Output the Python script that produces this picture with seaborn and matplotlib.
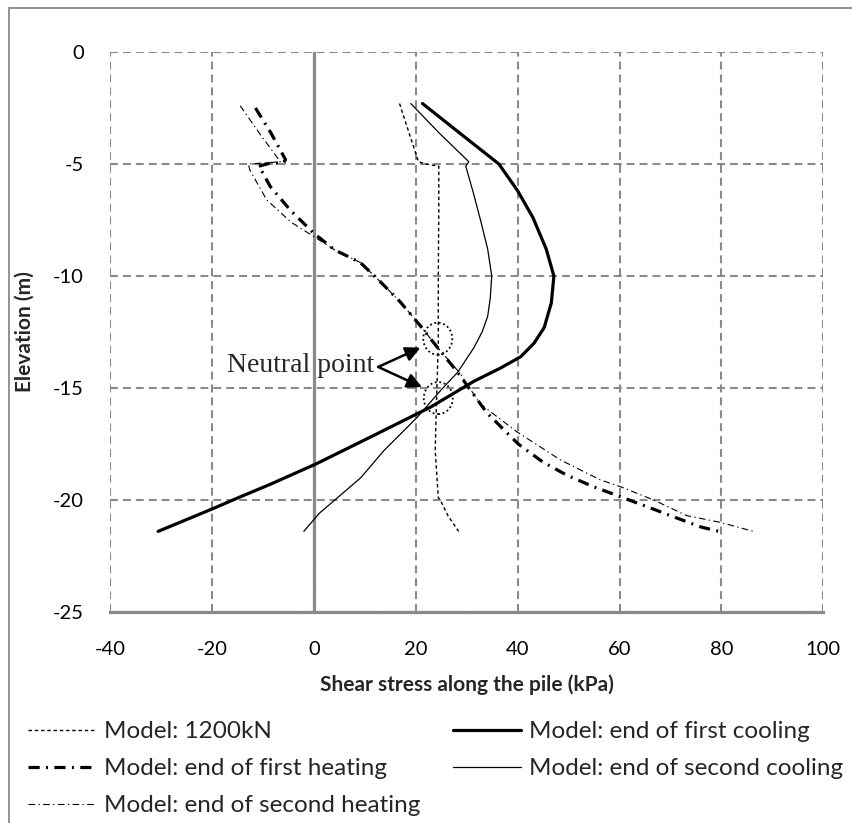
"""
Shear stress along the pile during thermal cycles (model results).
"""

import matplotlib
matplotlib.use('Agg')
import matplotlib.pyplot as plt
import seaborn as sns
from matplotlib.patches import Ellipse, Rectangle

sns.set_style('white')
plt.rcParams['font.family'] = ['Lato', 'DejaVu Sans']
plt.rcParams['axes.unicode_minus'] = False

# --- data (kPa, m) ---
load_x = [16.8, 18.5, 20.5, 22.0, 24.5, 24.5, 24.4, 24.4, 24.2, 24.0, 23.8, 24.4, 24.8, 26.3, 28.4]
load_y = [-2.3, -3.5, -4.9, -5.0, -5.1, -7.0, -10.0, -13.0, -14.5, -16.0, -17.8, -19.9, -20.0, -20.7, -21.4]

cool1_x = [21.3, 28.5, 36.3, 40.0, 43.0, 45.6, 47.1, 46.6, 45.2, 43.2, 40.6, 36.7,
           31.4, 22.9, 11.0, 0.3, -8.6, -14.9, -20.0, -30.6]
cool1_y = [-2.3, -3.6, -5.0, -6.2, -7.4, -8.8, -10.0, -11.2, -12.3, -13.0, -13.6, -14.1,
           -14.7, -15.85, -17.2, -18.4, -19.3, -19.9, -20.4, -21.4]

cool2_x = [19.0, 24.5, 30.4, 29.8, 31.3, 32.8, 34.1, 34.9, 34.6, 34.1, 33.0, 31.4,
           28.2, 24.9, 20.3, 13.7, 9.2, 4.6, 1.0, -2.0]
cool2_y = [-2.3, -3.6, -4.9, -5.1, -6.3, -7.6, -8.8, -10.0, -11.0, -11.8, -12.5, -13.2,
           -14.3, -15.1, -16.3, -17.8, -19.0, -19.9, -20.6, -21.4]

heat1_x = [-11.5, -8.5, -5.6, -6.0, -8.6, -10.9, -10.3, -8.6, -4.7, 0.0, 4.1, 9.1, 13.0,
           16.9, 20.8, 24.1, 28.2, 33.9, 40.1, 44.9, 49.7, 54.8, 60.1, 65.4, 70.6, 75.9, 79.5]
heat1_y = [-2.5, -3.6, -4.8, -4.96, -4.96, -5.1, -5.3, -6.0, -7.05, -8.1, -8.84, -9.4, -10.25,
           -11.15, -12.2, -13.15, -14.3, -16.1, -17.5, -18.3, -18.9, -19.4, -19.85, -20.3,
           -20.75, -21.2, -21.4]

heat2_x = [-14.5, -10.5, -6.6, -9.5, -12.9, -12.6, -9.3, -4.5, -1.0, 4.1, 9.1, 13.0, 16.9,
           20.8, 24.1, 28.5, 32.6, 39.8, 48.3, 56.2, 60.1, 66.7, 73.2, 79.8, 86.3]
heat2_y = [-2.4, -3.7, -4.9, -4.95, -5.0, -5.27, -6.6, -7.6, -8.1, -8.84, -9.4, -10.25, -11.15,
           -12.2, -13.15, -14.3, -15.7, -16.95, -18.2, -19.1, -19.4, -20.0, -20.7, -21.0, -21.4]

x_ticks = [-40, -20, 0, 20, 40, 60, 80, 100]
y_ticks = [0, -5, -10, -15, -20, -25]

neutral_x = [24.3, 24.4]
neutral_y = [-12.8, -15.45]

GRID = '#8a8a8a'

fig = plt.figure(figsize=(8.53, 8.23), dpi=100)
ax = fig.add_axes([110.3 / 853, 1 - 612 / 823, 713 / 853, 560 / 823])

series = [
    ('Model: 1200kN', load_x, load_y, 1.0, (0, (2.5, 2))),
    ('Model: end of first heating', heat1_x, heat1_y, 2.3, (0, (3.5, 2.0, 0.6, 2.0))),
    ('Model: end of second heating', heat2_x, heat2_y, 0.8, (0, (6, 3, 1.2, 3))),
    ('Model: end of first cooling', cool1_x, cool1_y, 2.3, '-'),
    ('Model: end of second cooling', cool2_x, cool2_y, 0.9, '-'),
]

handles = []
for label, xs, ys, lw, ls in series:
    sns.lineplot(x=xs, y=ys, ax=ax, sort=False, estimator=None, color='black',
                 lw=lw, linestyle=ls, label=label, zorder=3)
    handles.append(ax.lines[-1])
if ax.get_legend() is not None:
    ax.get_legend().remove()

ax.set_xlim(-40, 100)
ax.set_ylim(-25, 0)
ax.set_xticks(x_ticks)
ax.set_yticks(y_ticks)
ax.grid(True, color=GRID, lw=1.5, linestyle=(0, (3.8, 2.4)), zorder=0)
for side in ['top', 'left', 'right']:
    ax.spines[side].set_visible(False)
ax.spines['bottom'].set_color(GRID)
ax.spines['bottom'].set_linewidth(2.3)
ax.axvline(0, color=GRID, lw=2.3, zorder=2)

ax.tick_params(axis='x', direction='out', length=4, width=1.5, color=GRID,
               pad=17, labelsize=14.5, labelcolor='black')
ax.tick_params(axis='y', length=0, pad=19, labelsize=14.5, labelcolor='black')

ax.set_xlabel('Shear stress along the pile (kPa)', fontsize=15, fontweight='bold', va='center')
ax.xaxis.set_label_coords(0.5, (612 - 685) / 560)
ax.set_ylabel('Elevation (m)', fontsize=15, fontweight='bold', va='center')
ax.yaxis.set_label_coords((25 - 110.3) / 713, 0.5)

# neutral point annotation
for cx, cy in zip(neutral_x, neutral_y):
    ax.add_patch(Ellipse((cx, cy), 5.7, 1.43, fill=False, ec='black', lw=1.3,
                         linestyle=(0, (1, 1.5)), zorder=4))
ax.text(-17.1, -14.27, 'Neutral point', family=['Liberation Serif', 'DejaVu Serif'],
        fontsize=20, va='baseline', ha='left', zorder=5)
for hx, hy in [(20.9, -13.2), (21.2, -14.96)]:
    ax.annotate('', xy=(hx, hy), xytext=(12.6, -14.06),
                arrowprops=dict(arrowstyle='-|>', color='black', lw=1.8,
                                mutation_scale=22, shrinkA=0, shrinkB=0))

# legend in two blocks, as laid out in the reference
leg_kw = dict(frameon=False, fontsize=17.5, handlelength=2.8, handletextpad=0.32,
              borderpad=0, borderaxespad=0, labelspacing=0.66, loc='upper left')
leg1 = fig.legend(handles[:3], [s[0] for s in series[:3]],
                  bbox_to_anchor=(28 / 853, 1 - 721 / 823), **leg_kw)
leg2 = fig.legend(handles[3:], [s[0] for s in series[3:]],
                  bbox_to_anchor=(453 / 853, 1 - 721 / 823), **leg_kw)

# outer chart-area border
fig.add_artist(Rectangle((9 / 853, -0.1), 1.2, 1 - 8 / 823 + 0.1, transform=fig.transFigure,
                         fill=False, ec='#8a8a8a', lw=1.3))

fig.savefig('out.png', dpi=100)
